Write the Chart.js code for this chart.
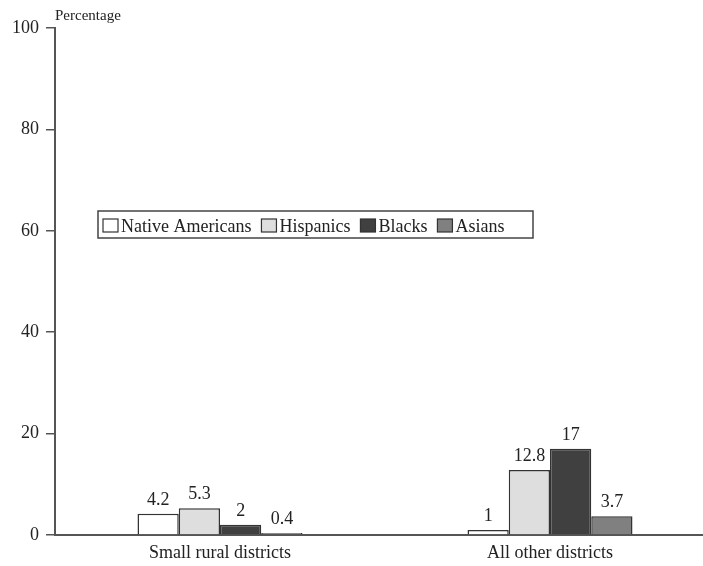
<!DOCTYPE html>
<html>
<head>
<meta charset="utf-8">
<script src="https://cdn.jsdelivr.net/npm/chart.js@4"></script>
<style>
  html, body { margin: 0; padding: 0; background: #fff; overflow: hidden; }
  #wrap { width: 703px; height: 566px; overflow: hidden; }
  #box { width: 716px; height: 566px; }
</style>
</head>
<body>
<div id="wrap"><div id="box"><canvas id="c"></canvas></div></div>
<script>
const categories = ['Small rural districts', 'All other districts'];
const seriesNames = ['Native Americans', 'Hispanics', 'Blacks', 'Asians'];
const nativeAmericans = [4.2, 1];
const hispanics = [5.3, 12.8];
const blacks = [2, 17];
const asians = [0.4, 3.7];
const yTicks = [0, 20, 40, 60, 80, 100];

const fills = ['#ffffff', '#dedede', '#404040', '#808080'];
const serif = '"Liberation Serif", "DejaVu Serif", serif';

const seriesValues = [nativeAmericans, hispanics, blacks, asians];

// Value labels above each bar
const valueLabels = {
  id: 'valueLabels',
  afterDatasetsDraw(chart) {
    const ctx = chart.ctx;
    ctx.save();
    ctx.font = '18px ' + serif;
    ctx.fillStyle = '#222';
    ctx.textAlign = 'center';
    ctx.textBaseline = 'alphabetic';
    chart.data.datasets.forEach((ds, i) => {
      chart.getDatasetMeta(i).data.forEach((bar, j) => {
        ctx.fillText(String(ds.data[j]), bar.x, bar.y - 9);
      });
    });
    ctx.restore();
  }
};

// Boxed legend in a single row, plus the axis caption
const boxedLegend = {
  id: 'boxedLegend',
  afterDraw(chart) {
    const ctx = chart.ctx;
    ctx.save();
    ctx.font = '15px ' + serif;
    ctx.fillStyle = '#222';
    ctx.textBaseline = 'alphabetic';
    ctx.textAlign = 'left';
    ctx.fillText('Percentage', 55, 20);

    const left = 98, top = 211, h = 27;
    ctx.font = '18px ' + serif;
    let x = left + 5;
    const items = chart.data.datasets.map(ds => ({ text: ds.label, fill: ds.backgroundColor }));
    items.forEach(it => {
      ctx.fillStyle = it.fill;
      ctx.fillRect(x, top + 8, 15, 13);
      ctx.strokeStyle = '#333';
      ctx.lineWidth = 1.2;
      ctx.strokeRect(x, top + 8, 15, 13);
      x += 18;
      ctx.fillStyle = '#222';
      ctx.fillText(it.text, x, top + 21);
      x += ctx.measureText(it.text).width + 10;
    });
    ctx.strokeStyle = '#444';
    ctx.lineWidth = 1.5;
    ctx.strokeRect(left, top, 533 - left, h);
    ctx.restore();
  }
};

new Chart(document.getElementById('c'), {
  type: 'bar',
  data: {
    labels: categories,
    datasets: seriesNames.map((name, i) => ({
      label: name,
      data: seriesValues[i],
      backgroundColor: fills[i],
      borderColor: '#333',
      borderWidth: 1.5,
      categoryPercentage: 0.5,
      barPercentage: 1.0
    }))
  },
  options: {
    responsive: true,
    maintainAspectRatio: false,
    animation: false,
    layout: { padding: { top: 28, right: 1, left: 0, bottom: 0 } },
    plugins: { legend: { display: false }, tooltip: { enabled: false } },
    scales: {
      x: {
        grid: { display: false, drawTicks: false },
        border: { color: '#555', width: 2 },
        ticks: { color: '#222', font: { family: serif, size: 18 }, padding: 7 },
        afterFit(s) { s.height = 31; }
      },
      y: {
        min: 0,
        max: 100,
        afterBuildTicks(s) { s.ticks = yTicks.map(v => ({ value: v })); },
        grid: { drawOnChartArea: false, color: '#555', tickLength: 9, lineWidth: 1.5 },
        border: { color: '#555', width: 2 },
        ticks: { color: '#222', font: { family: serif, size: 18 }, padding: 7 },
        afterFit(s) { s.width = 55; }
      }
    }
  },
  plugins: [valueLabels, boxedLegend]
});
</script>
</body>
</html>
